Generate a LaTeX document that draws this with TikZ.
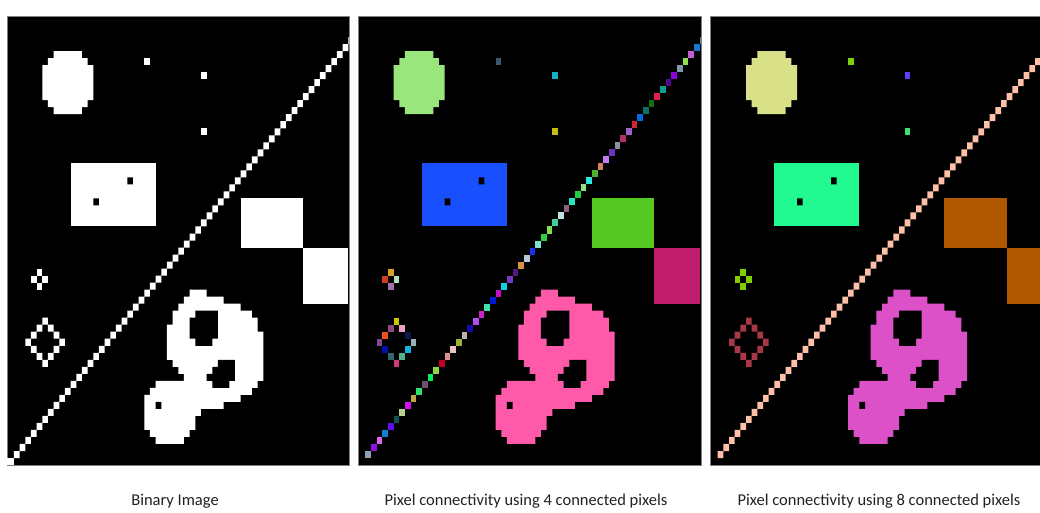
\documentclass[tikz,border=0pt]{standalone}
\usepackage{fontspec}
\setmainfont{Carlito}
\definecolor{framec}{HTML}{808080}
\definecolor{textc}{HTML}{222222}
% panel 2 colours
\definecolor{bcirc}{HTML}{98E67C}
\definecolor{bdotA}{HTML}{3C5A6E}
\definecolor{bdotB}{HTML}{18B0C0}
\definecolor{bdotC}{HTML}{C8B818}
\definecolor{brect}{HTML}{1850FF}
\definecolor{bsqA}{HTML}{55C823}
\definecolor{bsqB}{HTML}{C01E6C}
\definecolor{bcrA}{HTML}{D8A028}
\definecolor{bcrB}{HTML}{D03C20}
\definecolor{bcrC}{HTML}{B0E0B8}
\definecolor{bcrD}{HTML}{A070B0}
\definecolor{bblob}{HTML}{FF5AAA}
% panel 3 colours
\definecolor{ccirc}{HTML}{D8E088}
\definecolor{cdotA}{HTML}{80D010}
\definecolor{cdotB}{HTML}{6040FF}
\definecolor{cdotC}{HTML}{40E070}
\definecolor{crect}{HTML}{20FA90}
\definecolor{csq}{HTML}{B05800}
\definecolor{ccross}{HTML}{80D000}
\definecolor{cdiam}{HTML}{A83848}
\definecolor{cblob}{HTML}{DC50C8}
\definecolor{cdiag}{HTML}{FFC0A8}
\tikzset{
  panelbox/.style={fill=black,draw=framec,line width=0.9pt},
  caption/.style={font=\fontsize{16.5}{19}\selectfont,text=textc,anchor=base,inner sep=0pt}
}
% shapes in pixel units (column, row)
\newcommand\Ccirc[1]{\fill[#1] (8,5) rectangle (13,6) (7,6) rectangle (14,7) (6,7) rectangle (15,12) (7,12) rectangle (14,13) (8,13) rectangle (13,14);}
\newcommand\Crect[1]{\fill[#1] (11,21) rectangle (26,30); \fill[black] (21,23) rectangle (22,24) (15,26) rectangle (16,27);}
\newcommand\Cpx[3]{\fill[#3] (#1,#2) rectangle ++(1,1);}
\newcommand\Cblob[1]{\fill[#1] (32,39) rectangle (35,40) (31,40) rectangle (38,41) (30,41) rectangle (41,42)
  (29,42) rectangle (43,43) (29,43) rectangle (44,44) (28,44) rectangle (44,45) (28,45) rectangle (45,49)
  (29,49) rectangle (45,50) (30,50) rectangle (45,51) (31,51) rectangle (45,52) (26,52) rectangle (44,53)
  (25,53) rectangle (43,54) (24,54) rectangle (41,55) (24,55) rectangle (38,56) (24,56) rectangle (34,57)
  (24,57) rectangle (33,59) (25,59) rectangle (32,60) (26,60) rectangle (31,61);
  \fill[black] (33,42) rectangle (37,43) (32,43) rectangle (37,46) (33,46) rectangle (36,47)
  (37,49) rectangle (40,50) (36,50) rectangle (40,51) (35,51) rectangle (40,52) (36,52) rectangle (39,53)
  (26,55) rectangle (27,56);}
\newcommand\Ccross[4]{\Cpx{5}{36}{#1}\Cpx{4}{37}{#2}\Cpx{6}{37}{#3}\Cpx{5}{38}{#4}}
\newcommand\Cdiamond[1]{\fill[#1] (6,43) rectangle ++(1,1) (5,44) rectangle ++(1,1) (7,44) rectangle ++(1,1)
  (4,45) rectangle ++(1,1) (8,45) rectangle ++(1,1) (3,46) rectangle ++(1,1) (9,46) rectangle ++(1,1)
  (4,47) rectangle ++(1,1) (8,47) rectangle ++(1,1) (5,48) rectangle ++(1,1) (7,48) rectangle ++(1,1)
  (6,49) rectangle ++(1,1);}
\newcommand\Csquares[2]{\fill[#1] (41,26) rectangle (52,33); \fill[#2] (52,33) rectangle (60,41);}
\newcommand\Cdiag[1]{\fill[#1] \foreach \c in {1,...,60}{ (\c,63-\c) rectangle ++(1,1) };}
\begin{document}
\begin{tikzpicture}[x=1pt,y=-1pt]
\useasboundingbox (0,0) rectangle (1040,512);
\fill[white] (0,0) rectangle (1040,512);
% panel backgrounds
\path[panelbox] (7.3,16) rectangle (349.3,465);
\path[panelbox] (358.6,16) rectangle (701,465);
\path[panelbox] (710.9,16) rectangle (1053,465);
% ---------- panel 1: binary image ----------
\begin{scope}[xshift=8.3pt,yshift=-16pt,x=5.667pt,y=-7.016pt]
  \clip (0,0) rectangle (60.17,64);
  \Ccirc{white}
  \Cpx{24}{6}{white}\Cpx{34}{8}{white}\Cpx{34}{16}{white}
  \Crect{white}
  \Csquares{white}{white}
  \Ccross{white}{white}{white}{white}
  \Cdiamond{white}
  \Cblob{white}
  \Cdiag{white}
\end{scope}
\fill[white] (7,458) rectangle (13.9,465.4);
% ---------- panel 2: 4-connectivity ----------
\begin{scope}[xshift=359.6pt,yshift=-16pt,x=5.667pt,y=-7.016pt]
  \clip (0,0) rectangle (60.17,64);
  \Ccirc{bcirc}
  \Cpx{24}{6}{bdotA}
  \Cpx{34}{8}{bdotB}
  \Cpx{34}{16}{bdotC}
  \Crect{brect}
  \Csquares{bsqA}{bsqB}
  \Ccross{bcrA}{bcrB}{bcrC}{bcrD}
  \foreach \cc/\rr/\hh in {6/43/C8C800,5/44/904880,7/44/F0A0C8,4/45/F05020,8/45/101848,3/46/804890,
     9/46/98B0B8,4/47/0010A8,8/47/10B0E0,5/48/306870,7/48/50B090,6/49/D03880}{
    \definecolor{tmpc}{HTML}{\hh}\fill[tmpc] (\cc,\rr) rectangle ++(1,1);}
  \Cblob{bblob}
  \foreach \cc/\hh in {1/8CA0B8,2/9010E0,3/E060F0,4/1080D0,5/6010F0,6/105050,7/B8D090,8/D010F0,
     9/C0A840,10/30E070,11/705070,12/00F060,13/90D840,14/C00020,15/D89090,16/F0C0C0,17/A0B030,
     18/C0B0A0,19/1808B0,20/B050F0,21/D020D0,22/40E0B0,23/0018D8,24/C010C0,25/10D0E0,26/7838C0,
     27/501880,28/D89040,29/B8C8D8,30/1830F0,31/80E0D0,32/30D040,33/80E050,34/40D0A0,35/C0E0E8,
     36/906080,37/20E8C0,38/20D040,39/90E080,40/30E8E0,41/50B030,42/D88060,43/C080F0,44/7030C0,
     45/9090A0,46/B03070,47/A060D0,48/D02830,49/0068E0,50/107060,51/107010,52/E02050,53/10A090,
     54/500890,55/9000E0,56/8098B0,57/90E050,58/C060D0,59/1878D0,60/80E0E0}{
    \definecolor{tmpc}{HTML}{\hh}\fill[tmpc] (\cc,63-\cc) rectangle ++(1,1);}
\end{scope}
% ---------- panel 3: 8-connectivity ----------
\begin{scope}[xshift=712pt,yshift=-16pt,x=5.667pt,y=-7.016pt]
  \clip (0,0) rectangle (60.17,64);
  \Ccirc{ccirc}
  \Cpx{24}{6}{cdotA}
  \Cpx{34}{8}{cdotB}
  \Cpx{34}{16}{cdotC}
  \Crect{crect}
  \Csquares{csq}{csq}
  \Ccross{ccross}{ccross}{ccross}{ccross}
  \Cdiamond{cdiam}
  \Cblob{cblob}
  \Cdiag{cdiag}
\end{scope}
% ---------- captions ----------
\node[caption] (cap1) at (175,505.7) {Binary Image};
\node[caption] (cap2) at (526,505.7) {Pixel connectivity using 4 connected pixels};
\node[caption] (cap3) at (879,505.7) {Pixel connectivity using 8 connected pixels};
\end{tikzpicture}
\end{document}
